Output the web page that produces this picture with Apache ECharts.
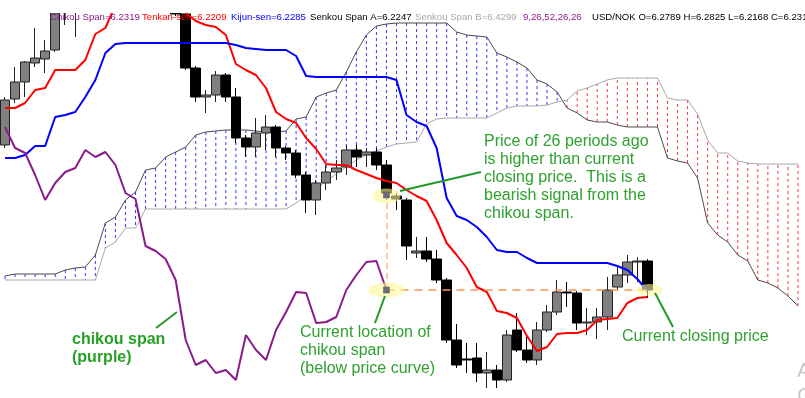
<!DOCTYPE html>
<html><head><meta charset="utf-8">
<script src="https://cdn.jsdelivr.net/npm/echarts@6/dist/echarts.min.js"></script>
<style>html,body{margin:0;padding:0;background:#fff}#c{width:805px;height:398px}</style>
</head><body><div id="c"></div>
<script>
const categories = Array.from({length: 80}, (_, i) => String(i));

const open = [6.355,6.401,6.418,6.437,6.441,6.450,6.490,6.500,6.520,6.540,
  6.555,6.570,6.560,6.575,6.565,6.550,6.530,6.510,6.486,6.432,
  6.403,6.405,6.425,6.403,6.362,6.353,6.367,6.373,6.352,6.347,
  6.325,6.300,6.317,6.328,6.333,6.350,6.345,6.348,6.335,6.304,
  6.300,6.247,6.249,6.241,6.220,6.160,6.141,6.142,6.127,6.130,
  6.120,6.170,6.150,6.140,6.170,6.188,6.208,6.207,6.177,6.178,
  6.183,6.213,6.225,6.238,6.239];
const close = [6.400,6.418,6.438,6.442,6.449,6.487,6.505,6.520,6.540,6.555,
  6.570,6.560,6.575,6.565,6.550,6.530,6.510,6.486,6.432,6.403,
  6.405,6.425,6.403,6.362,6.353,6.367,6.373,6.352,6.347,6.325,
  6.300,6.317,6.328,6.332,6.350,6.343,6.348,6.335,6.307,6.301,
  6.254,6.249,6.241,6.220,6.160,6.135,6.140,6.127,6.130,6.120,
  6.165,6.150,6.140,6.170,6.188,6.208,6.207,6.177,6.178,6.183,
  6.210,6.225,6.238,6.239,6.210];
const low = [6.352,6.397,6.403,6.433,6.427,6.448,6.475,6.463,6.495,6.530,
  6.550,6.550,6.555,6.555,6.540,6.520,6.500,6.484,6.430,6.398,
  6.387,6.398,6.398,6.357,6.343,6.343,6.350,6.343,6.340,6.322,
  6.287,6.285,6.310,6.320,6.325,6.333,6.333,6.330,6.300,6.290,
  6.240,6.242,6.238,6.217,6.157,6.132,6.127,6.118,6.112,6.112,
  6.118,6.148,6.137,6.135,6.168,6.185,6.193,6.170,6.165,6.161,
  6.170,6.210,6.217,6.218,6.202];
const high = [6.403,6.433,6.439,6.472,6.460,6.490,6.510,6.525,6.545,6.570,
  6.580,6.585,6.590,6.585,6.575,6.560,6.540,6.520,6.495,6.434,
  6.410,6.429,6.427,6.412,6.365,6.382,6.385,6.375,6.354,6.350,
  6.328,6.320,6.335,6.340,6.355,6.355,6.352,6.352,6.340,6.307,
  6.302,6.263,6.263,6.250,6.222,6.176,6.157,6.157,6.148,6.135,
  6.170,6.187,6.163,6.178,6.195,6.220,6.218,6.209,6.192,6.192,
  6.223,6.235,6.245,6.243,6.241];

const tenkan = [6.392,6.392,6.397,6.410,6.412,6.430,6.430,6.430,6.440,6.466,
  6.472,6.495,6.510,6.520,6.520,6.515,6.510,6.500,6.487,6.479,
  6.475,6.473,6.465,6.436,6.430,6.425,6.412,6.388,6.381,6.377,
  6.362,6.351,6.336,6.335,6.335,6.330,6.326,6.322,6.319,6.317,
  6.310,6.304,6.299,6.280,6.257,6.245,6.232,6.213,6.208,6.189,
  6.187,6.182,6.164,6.149,6.153,6.166,6.167,6.167,6.170,6.180,
  6.181,6.182,6.197,6.202,6.203];
const kijun = [6.342,6.342,6.345,6.354,6.354,6.383,6.385,6.388,6.403,6.420,
  6.447,6.456,6.457,6.457,6.457,6.457,6.457,6.457,6.457,6.457,
  6.457,6.457,6.457,6.455,6.452,6.451,6.450,6.450,6.450,6.444,
  6.424,6.423,6.423,6.423,6.423,6.423,6.423,6.423,6.423,6.420,
  6.385,6.378,6.374,6.352,6.302,6.284,6.280,6.273,6.263,6.250,
  6.248,6.248,6.242,6.237,6.237,6.237,6.237,6.237,6.237,6.237,
  6.237,6.234,6.230,6.221,6.209];
const senkouA = [6.224,6.226,6.226,6.226,6.226,6.226,6.230,6.232,6.233,6.245,
  6.277,6.283,6.300,6.308,6.330,6.332,6.343,6.348,6.353,6.365,
  6.368,6.369,6.370,6.370,6.370,6.369,6.368,6.368,6.369,6.381,
  6.383,6.403,6.407,6.410,6.428,6.448,6.465,6.474,6.476,6.477,
  6.477,6.477,6.477,6.477,6.477,6.468,6.465,6.464,6.463,6.447,
  6.443,6.438,6.432,6.420,6.416,6.408,6.392,6.387,6.380,6.378,
  6.378,6.375,6.373,6.373,6.373,6.373,6.342,6.339,6.337,6.322,
  6.277,6.265,6.258,6.245,6.239,6.220,6.217,6.212,6.204,6.194];
const senkouB = [6.220,6.220,6.220,6.220,6.220,6.220,6.220,6.220,6.220,6.220,
  6.252,6.258,6.272,6.272,6.291,6.291,6.291,6.291,6.291,6.291,
  6.291,6.291,6.291,6.291,6.291,6.291,6.291,6.291,6.291,6.297,
  6.304,6.311,6.319,6.326,6.333,6.340,6.345,6.349,6.353,6.356,
  6.357,6.358,6.376,6.381,6.382,6.382,6.382,6.382,6.382,6.387,
  6.392,6.394,6.394,6.394,6.395,6.398,6.400,6.409,6.412,6.416,
  6.420,6.422,6.422,6.422,6.422,6.422,6.402,6.400,6.400,6.386,
  6.360,6.347,6.347,6.339,6.337,6.336,6.336,6.336,6.336,6.336];
const chikou = [6.373,6.352,6.347,6.325,6.300,6.317,6.328,6.332,6.350,6.343,
  6.348,6.335,6.307,6.301,6.254,6.249,6.241,6.220,6.160,6.135,
  6.140,6.127,6.130,6.120,6.165,6.150,6.140,6.170,6.188,6.208,
  6.207,6.177,6.178,6.183,6.210,6.225,6.238,6.239,6.210];

const headerTexts = [
  {text: 'Chikou Span=6.2319', color: '#8a1a8a', x: 50},
  {text: 'Tenkan-sen=6.2209', color: '#ff0000', x: 142},
  {text: 'Kijun-sen=6.2285', color: '#0000ff', x: 231},
  {text: 'Senkou Span A=6.2247', color: '#000000', x: 310},
  {text: 'Senkou Span B=6.4299', color: '#a8a8a8', x: 415},
  {text: '9,26,52,26,26', color: '#8a1a8a', x: 523},
  {text: 'USD/NOK O=6.2789 H=6.2825 L=6.2168 C=6.2319', color: '#000000', x: 592}
];

const candleData = open.map((o, i) => [o, close[i], low[i], high[i]]);
const cloudData = senkouA.map((a, i) => [i, a, senkouB[i]]);
const NOW = 64, BACK = 38;

const chart = echarts.init(document.getElementById('c'), null, {renderer: 'canvas'});
const ellipse = 'path://M0,50 A50,50 0 1,1 100,50 A50,50 0 1,1 0,50 Z';
const FONT = '"Liberation Sans", Arial, sans-serif';
const green = '#2fa12f';

const graphics = [];
// top margin above the plotting area (price pane starts at y=13)
graphics.push({type: 'rect', z: 40, shape: {x: 0, y: 0, width: 805, height: 13}, style: {fill: '#ffffff'}});
headerTexts.forEach(h => graphics.push({
  type: 'text', x: h.x, y: 17, z: 50,
  style: {text: h.text, fill: h.color, font: '9.6px ' + FONT, verticalAlign: 'middle'}
}));
function txt(t, x, y, bold, color) {
  graphics.push({type: 'text', x: x, y: y, z: 50,
    style: {text: t, fill: color || green, font: (bold ? 'bold ' : '') + '16px ' + FONT,
            verticalAlign: 'middle', lineHeight: 18}});
}
function seg(x1, y1, x2, y2) {
  graphics.push({type: 'line', z: 50, shape: {x1, y1, x2, y2},
    style: {stroke: '#22992a', lineWidth: 2}});
}
txt('Price of 26 periods ago', 484, 142);
txt('is higher than current', 484, 160);
txt('closing price.  This is a', 484, 178);
txt('bearish signal from the', 484, 196);
txt('chikou span.', 484, 214);
txt('Current location of', 300, 333);
txt('chikou span', 300, 351);
txt('(below price curve)', 300, 369);
txt('Current closing price', 622, 337);
txt('chikou span', 72, 340, true, '#27a027');
txt('(purple)', 72, 358, true, '#27a027');
seg(400, 191, 481, 172);
seg(156, 328, 177, 312);
seg(375, 323, 385, 296);
seg(655, 293, 673, 327);
graphics.push({type: 'text', x: 797, y: 371, z: 50,
  style: {text: 'A', fill: '#c8c8c8', font: '21px ' + FONT, verticalAlign: 'middle'}});
graphics.push({type: 'text', x: 797, y: 396, z: 50,
  style: {text: 'G', fill: '#c8c8c8', font: '21px ' + FONT, verticalAlign: 'middle'}});

const option = {
  animation: false,
  backgroundColor: '#ffffff',
  grid: {left: 0, right: 2, top: 14, bottom: 0},
  xAxis: {type: 'category', data: categories, boundaryGap: true, show: false},
  yAxis: {type: 'value', min: 6.102, max: 6.486, show: false},
  series: [
    {
      type: 'custom', name: 'cloud', z: 1, clip: true, silent: true,
      data: cloudData,
      encode: {x: 0, y: [1, 2]},
      renderItem: function (params, api) {
        const i = api.value(0), a = api.value(1), b = api.value(2);
        const p1 = api.coord([i, a]), p2 = api.coord([i, b]);
        return {type: 'line',
          shape: {x1: p1[0], y1: p1[1], x2: p2[0], y2: p2[1]},
          style: {stroke: a >= b ? '#3838ff' : '#ff3838', lineWidth: 1, lineDash: [3, 3]}};
      }
    },
    {type: 'line', name: 'Senkou Span A', data: senkouA, z: 2, symbol: 'none', silent: true,
      lineStyle: {color: '#4a4a4a', width: 1}},
    {type: 'line', name: 'Senkou Span B', data: senkouB, z: 2, symbol: 'none', silent: true,
      lineStyle: {color: '#a8a8a8', width: 1}},
    {type: 'candlestick', name: 'USD/NOK', data: candleData, z: 3, barWidth: 10, clip: true, silent: true,
      itemStyle: {color: '#808080', color0: '#000000', borderColor: '#222222', borderColor0: '#000000', borderWidth: 1}},
    {type: 'line', name: 'Tenkan-sen', data: tenkan, z: 4, symbol: 'none', silent: true,
      lineStyle: {color: '#ff0000', width: 2}},
    {type: 'line', name: 'Kijun-sen', data: kijun, z: 4, symbol: 'none', silent: true,
      lineStyle: {color: '#0000ff', width: 2}},
    {type: 'line', name: 'Chikou Span', data: chikou, z: 4, symbol: 'none', silent: true,
      lineStyle: {color: '#8a1a8a', width: 2},
      markLine: {
        silent: true, symbol: ['none', 'none'], label: {show: false},
        data: [
          [{coord: [BACK, close[BACK]], lineStyle: {color: '#ffc9a8', width: 2, type: [6, 4]}},
           {coord: [BACK, chikou[BACK]]}],
          [{coord: [BACK, chikou[BACK]], lineStyle: {color: '#ff9550', width: 1.5, type: [8, 6]}},
           {coord: [NOW, close[NOW]]}]
        ]
      },
      markPoint: {
        silent: true, label: {show: false},
        data: [
          {coord: [BACK, close[BACK]], symbol: ellipse, symbolSize: [28, 15], symbolOffset: [0, 3],
            itemStyle: {color: 'rgba(255,248,150,0.6)'}},
          {coord: [BACK, chikou[BACK]], symbol: ellipse, symbolSize: [36, 15],
            itemStyle: {color: 'rgba(255,248,150,0.6)'}},
          {coord: [NOW, close[NOW]], symbol: ellipse, symbolSize: [26, 12], symbolOffset: [2, 0],
            itemStyle: {color: 'rgba(255,248,150,0.6)'}},
          {coord: [BACK, close[BACK]], symbol: 'rect', symbolSize: 6, symbolOffset: [0, 2],
            itemStyle: {color: '#6e6e7e', borderColor: '#555', borderWidth: 0.5}},
          {coord: [BACK, chikou[BACK]], symbol: 'rect', symbolSize: 6,
            itemStyle: {color: '#6e6e7e', borderColor: '#555', borderWidth: 0.5}}
        ]
      }
    }
  ],
  graphic: graphics
};
chart.setOption(option);
</script>
</body></html>
